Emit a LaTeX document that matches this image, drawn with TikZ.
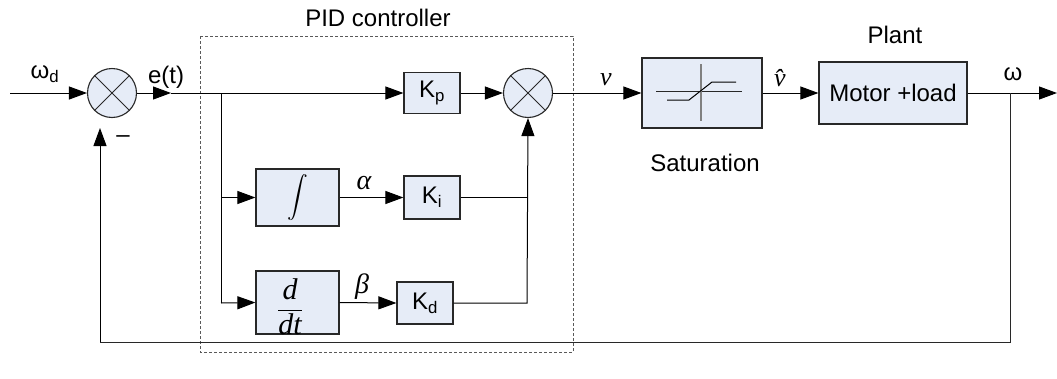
\documentclass[tikz,border=0pt]{standalone}
\usepackage{amsmath}
\usepackage{exscale}
\usepackage{fontspec}
\setmainfont{Liberation Sans}
\newfontfamily\tms{Liberation Serif}
\usetikzlibrary{arrows.meta}
\definecolor{boxfill}{RGB}{230,236,247}
\definecolor{edge}{RGB}{40,40,40}
\begin{document}
\begin{tikzpicture}[x=1pt,y=-1pt,
  font=\fontsize{24}{28}\selectfont,
  blk/.style={draw=edge,fill=boxfill,line width=1.2pt,inner sep=0pt},
  sumnode/.style={circle,draw=edge,fill=boxfill,line width=1.1pt,minimum size=49pt,inner sep=0pt},
  wire/.style={line width=1pt,draw=black},
  arr/.style={wire,-{Triangle[length=18pt,width=13pt]}},
  lbl/.style={inner sep=0pt},
  mlbl/.style={inner sep=0pt,font=\fontsize{28}{32}\selectfont\tms\itshape}]
\useasboundingbox (0,0) rectangle (1057,378);

% PID dashed frame
\draw[gray!70!black,line width=0.9pt,dash pattern=on 3pt off 2pt] (200,36) rectangle (573,352);

% blocks
\node[sumnode] (s1) at (112,93) {};
\node[sumnode] (s2) at (528,93) {};
\node[blk,minimum width=56pt,minimum height=41pt] (kp) at (432,93) {K\textsubscript{p}};
\node[blk,minimum width=83pt,minimum height=57pt,font=\fontsize{20}{24}\selectfont] (int) at (297.5,197.5) {$\displaystyle\int$};
\node[blk,minimum width=56pt,minimum height=43pt] (ki) at (432,197.5) {K\textsubscript{i}};
\node[blk,minimum width=83pt,minimum height=63pt] (der) at (297.5,302.5) {};
\node[lbl,font=\fontsize{30}{34}\selectfont] (derlbl) at (290,307) {$\dfrac{\text{\tms\itshape d}}{\text{\tms\itshape dt}}$};
\node[blk,minimum width=56pt,minimum height=42pt] (kd) at (425,303) {K\textsubscript{d}};
\node[blk,minimum width=120pt,minimum height=70pt] (sat) at (702,93) {};
\node[blk,minimum width=148pt,minimum height=62pt] (mot) at (893,93) {Motor +load};

% sum crosses
\foreach \s in {s1,s2}{
  \draw[edge,line width=0.9pt] (\s.north west) -- (\s.south east);
  \draw[edge,line width=0.9pt] (\s.north east) -- (\s.south west);
}

% saturation symbol
\draw[edge,line width=1pt] (656,91) -- (742,91);
\draw[gray,line width=1.3pt] (701,64) -- (701,121);
\draw[black,line width=1pt] (667,100) -- (689,100) -- (712,82) -- (736,82);

% coordinates
\coordinate (in) at (10,93);
\coordinate (e1) at (171,93);
\coordinate (b) at (221,93);
\coordinate (bi) at (221,197.5);
\coordinate (bd) at (221,303);
\coordinate (ji) at (527,197.5);
\coordinate (jd) at (527,303);
\coordinate (fb1) at (1010,93);
\coordinate (fb2) at (1010,342);
\coordinate (fb3) at (100,342);
\coordinate (fb4) at (100,128);
\coordinate (out) at (1057,93);

% connectors
\draw[arr] (in) -- (s1.west);
\draw[arr] (s1.east) -- (e1);
\draw[arr] (e1) -- (kp.west);
\draw[wire] (b) -- (bd);
\draw[arr] (bi) -- (int.west);
\draw[arr] (bd) -- (der.west);
\draw[arr] (kp.east) -- (s2.west);
\draw[arr] (int.east) -- (ki.west);
\draw[arr] (der.east) -- (kd.west);
\draw[wire] (ki.east) -- (ji);
\draw[arr] (kd.east) -- (jd) -- (s2.south);
\draw[arr] (s2.east) -- (sat.west);
\draw[arr] (sat.east) -- (mot.west);
\draw[arr] (mot.east) -- (out);
\draw[wire,draw=edge] (fb1) -- (fb2) -- (fb3);
\draw[arr] (fb3) -- (fb4);

% labels
\node[lbl] (lwd) at (45,74) {ω\textsubscript{d}};
\node[lbl] (let) at (166,77) {e(t)};
\node[lbl] (lmin) at (123,139) {–};
\node[lbl] (lpid) at (378,18) {PID controller};
\node[mlbl] (lal) at (364,183) {α};
\node[mlbl] (lbe) at (362,287) {β};
\node[mlbl,font=\fontsize{26}{30}\selectfont\tms\itshape] (lv) at (606,80) {v};
\node[mlbl,font=\fontsize{26}{30}\selectfont\tms\itshape] (lvh) at (780,78) {\^{v}};
\node[lbl] (lplant) at (895,35) {Plant};
\node[lbl] (lsat) at (705,163) {Saturation};
\node[lbl] (lw) at (1013,74) {ω};
\end{tikzpicture}
\end{document}
